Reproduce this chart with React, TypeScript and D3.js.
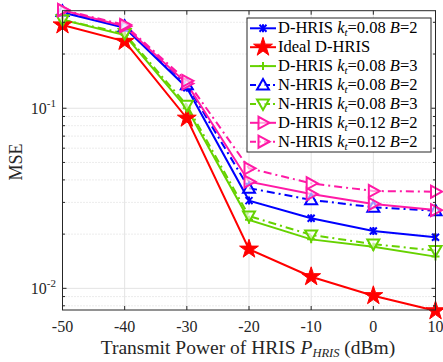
import React from 'react';
import * as d3 from 'd3';

// x axis: transmit power (dBm)
const powers = [-50, -40, -30, -20, -10, 0, 10];

// MSE for each scheme
const dHris008B2 = [0.34, 0.28, 0.13, 0.0307, 0.0245, 0.0208, 0.0192];
const idealDHris = [0.29, 0.235, 0.088, 0.0165, 0.0116, 0.0091, 0.0075];
const dHris008B3 = [0.31, 0.255, 0.1, 0.024, 0.0187, 0.017, 0.015];
const nHris008B2 = [0.345, 0.285, 0.135, 0.036, 0.031, 0.0282, 0.027];
const nHris008B3 = [0.31, 0.26, 0.104, 0.0252, 0.0198, 0.0176, 0.0162];
const dHris012B2 = [0.35, 0.285, 0.137, 0.0391, 0.0334, 0.0294, 0.0272];
const nHris012B2 = [0.352, 0.29, 0.142, 0.0464, 0.0383, 0.0347, 0.0344];

const xTicks = [-50, -40, -30, -20, -10, 0, 10];
const yMajor = [0.01, 0.1];
const yMinor = [0.008, 0.009, 0.02, 0.03, 0.04, 0.05, 0.06, 0.07, 0.08, 0.09, 0.2, 0.3];

type Series = {
  scheme: string;
  kt?: string;
  b?: string;
  values: number[];
  color: string;
  dashed: boolean;
  marker: string;
};

const BLUE = '#0000ff';
const RED = '#ff0000';
const GREEN = '#66d200';
const PINK = '#ff1aa6';

const series: Series[] = [
  { scheme: 'D-HRIS', kt: '0.08', b: '2', values: dHris008B2, color: BLUE, dashed: false, marker: 'x' },
  { scheme: 'Ideal D-HRIS', values: idealDHris, color: RED, dashed: false, marker: 'star' },
  { scheme: 'D-HRIS', kt: '0.08', b: '3', values: dHris008B3, color: GREEN, dashed: false, marker: 'plus' },
  { scheme: 'N-HRIS', kt: '0.08', b: '2', values: nHris008B2, color: BLUE, dashed: true, marker: 'up' },
  { scheme: 'N-HRIS', kt: '0.08', b: '3', values: nHris008B3, color: GREEN, dashed: true, marker: 'down' },
  { scheme: 'D-HRIS', kt: '0.12', b: '2', values: dHris012B2, color: PINK, dashed: false, marker: 'right' },
  { scheme: 'N-HRIS', kt: '0.12', b: '2', values: nHris012B2, color: PINK, dashed: true, marker: 'right' },
];

const FONT = '"Liberation Serif", "DejaVu Serif", serif';
const AXIS = '#262626';

const Marker = ({ type, x, y, color }: { type: string; x: number; y: number; color: string }) => {
  const s = 6;
  if (type === 'x') {
    return (
      <g stroke={color} strokeWidth={2}>
        <path d={`M${x - 3.5},${y - 3.5}L${x + 3.5},${y + 3.5}M${x - 3.5},${y + 3.5}L${x + 3.5},${y - 3.5}M${x},${y - 4}L${x},${y + 4}`} />
      </g>
    );
  }
  if (type === 'plus') {
    return <path d={`M${x - 4},${y}L${x + 4},${y}M${x},${y - 4}L${x},${y + 4}`} stroke={color} strokeWidth={2} />;
  }
  if (type === 'star') {
    const p = d3.symbol(d3.symbolStar, 110)();
    return <path d={p || ''} transform={`translate(${x},${y})`} fill={color} stroke={color} strokeWidth={1} />;
  }
  let pts: [number, number][] = [];
  if (type === 'up') pts = [[0, -s], [s, s * 0.75], [-s, s * 0.75]];
  if (type === 'down') pts = [[0, s], [s, -s * 0.75], [-s, -s * 0.75]];
  if (type === 'right') pts = [[s * 1.1, 0], [-s * 0.75, -s], [-s * 0.75, s]];
  const d = 'M' + pts.map(([a, b]) => `${x + a},${y + b}`).join('L') + 'Z';
  return <path d={d} fill="white" fillOpacity={0.6} stroke={color} strokeWidth={2} />;
};

const LegendLabel = ({ s }: { s: Series }) => {
  if (!s.kt) return <>{s.scheme}</>;
  return (
    <>
      {s.scheme + ' '}
      <tspan fontStyle="italic">k</tspan>
      <tspan fontStyle="italic" fontSize={11} dy={3}>t</tspan>
      <tspan dy={-3}>{'=' + s.kt + ' '}</tspan>
      <tspan fontStyle="italic">B</tspan>
      <tspan>{'=' + s.b}</tspan>
    </>
  );
};

export default function App() {
  const left = 62.5;
  const right = 435.5;
  const top = 10.7;
  const bottom = 310;

  const x = d3.scaleLinear().domain([-50, 10]).range([left, right]);
  const y = d3.scaleLog().domain([0.00758, 0.348]).range([bottom, top]);

  const line = d3
    .line<number>()
    .x((_, i) => x(powers[i]))
    .y((d) => y(d));

  const legendX = 247;
  const legendY = 18;
  const rowH = 18.9;

  return (
    <svg
      width={443}
      height={362}
      style={{ position: 'absolute', left: 0, top: 0, background: 'white' }}
      fontFamily={FONT}
    >
      <defs>
        <clipPath id="plot">
          <rect x={left} y={top} width={right - left} height={bottom - top} />
        </clipPath>
      </defs>
      <rect x={left} y={top} width={right - left} height={bottom - top} fill="white" />

      {/* grid */}
      {yMinor.map((v) => (
        <line key={'ym' + v} x1={left} x2={right} y1={y(v)} y2={y(v)} stroke="#cfcfcf" strokeDasharray="1,2" strokeWidth={0.8} />
      ))}
      {yMajor.map((v) => (
        <line key={'yg' + v} x1={left} x2={right} y1={y(v)} y2={y(v)} stroke="#e3e3e3" strokeWidth={1} />
      ))}
      {xTicks.map((v) => (
        <line key={'xg' + v} x1={x(v)} x2={x(v)} y1={top} y2={bottom} stroke="#e3e3e3" strokeWidth={1} />
      ))}

      {/* series */}
      <g clipPath="url(#plot)">
        {series.map((s, i) => (
          <path
            key={'l' + i}
            d={line(s.values) || ''}
            fill="none"
            stroke={s.color}
            strokeWidth={2}
            strokeDasharray={s.dashed ? '8,4,2,4' : undefined}
          />
        ))}
      </g>
      {series.map((s, i) => (
        <g key={'m' + i}>
          {s.values.map((v, j) => (
            <Marker key={j} type={s.marker} x={x(powers[j])} y={y(v)} color={s.color} />
          ))}
        </g>
      ))}

      {/* axes box and ticks */}
      <rect x={left} y={top} width={right - left} height={bottom - top} fill="none" stroke={AXIS} strokeWidth={1} />
      {xTicks.map((v) => (
        <g key={'xt' + v} stroke={AXIS}>
          <line x1={x(v)} x2={x(v)} y1={bottom} y2={bottom - 4} />
          <line x1={x(v)} x2={x(v)} y1={top} y2={top + 4} />
        </g>
      ))}
      {yMajor.map((v) => (
        <g key={'yt' + v} stroke={AXIS}>
          <line x1={left} x2={left + 4} y1={y(v)} y2={y(v)} />
          <line x1={right} x2={right - 4} y1={y(v)} y2={y(v)} />
        </g>
      ))}
      {yMinor.map((v) => (
        <g key={'ymt' + v} stroke={AXIS}>
          <line x1={left} x2={left + 2.5} y1={y(v)} y2={y(v)} />
          <line x1={right} x2={right - 2.5} y1={y(v)} y2={y(v)} />
        </g>
      ))}

      {/* tick labels */}
      {xTicks.map((v) => (
        <text key={'xl' + v} x={x(v)} y={332} textAnchor="middle" fontSize={16} fill={AXIS}>
          {v}
        </text>
      ))}
      {yMajor.map((v) => (
        <text key={'yl' + v} x={56} y={y(v) + 6} textAnchor="end" fontSize={16} fill={AXIS}>
          10
          <tspan fontSize={11} dy={-7}>{String(Math.round(Math.log10(v)))}</tspan>
        </text>
      ))}

      {/* axis titles */}
      <text x={248} y={354} textAnchor="middle" fontSize={19.5} fill={AXIS}>
        Transmit Power of HRIS <tspan fontStyle="italic">P</tspan>
        <tspan fontStyle="italic" fontSize={12.5} dy={3}>HRIS</tspan>
        <tspan dy={-3}> (dBm)</tspan>
      </text>
      <text transform="translate(22,162) rotate(-90)" textAnchor="middle" fontSize={18} fill={AXIS}>
        MSE
      </text>

      {/* legend */}
      <rect x={legendX} y={legendY} width={184} height={134} fill="white" stroke={AXIS} strokeWidth={1} />
      {series.map((s, i) => {
        const cy = legendY + 10.3 + i * rowH;
        return (
          <g key={'lg' + i}>
            <line
              x1={legendX + 3}
              x2={legendX + 29}
              y1={cy}
              y2={cy}
              stroke={s.color}
              strokeWidth={2}
              strokeDasharray={s.dashed ? '6,3,2,3' : undefined}
            />
            <Marker type={s.marker} x={legendX + 16} y={cy} color={s.color} />
            <text x={legendX + 31} y={cy + 5} fontSize={16.5} fill="black">
              <LegendLabel s={s} />
            </text>
          </g>
        );
      })}
    </svg>
  );
}
